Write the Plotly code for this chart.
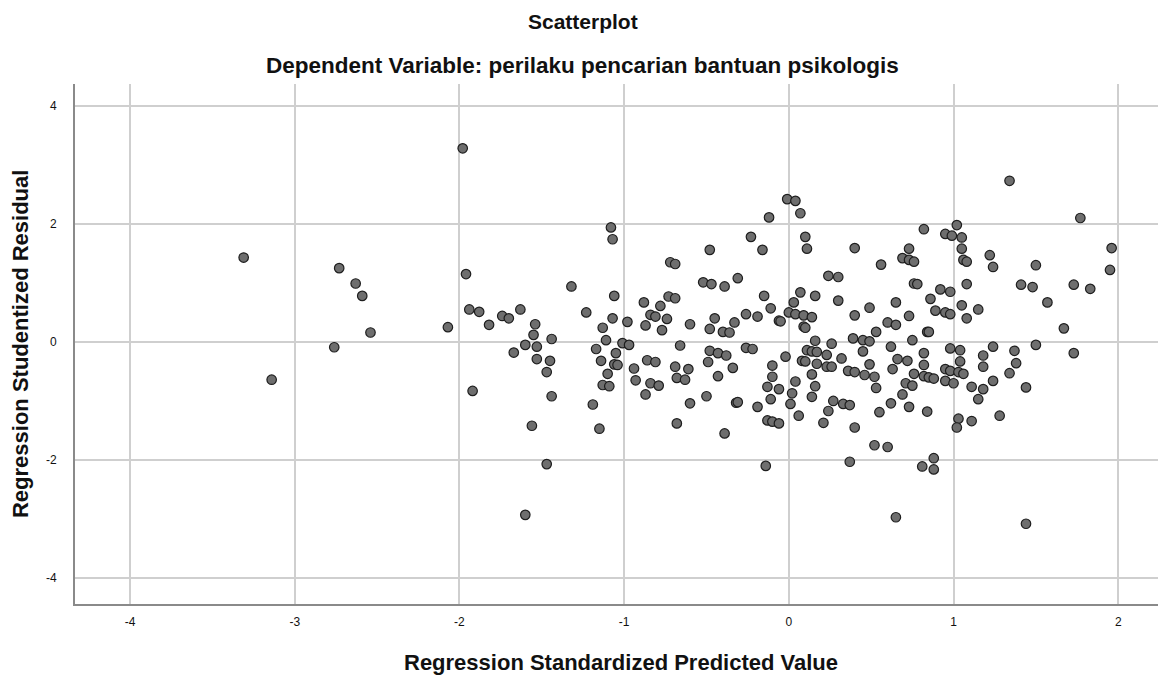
import plotly.graph_objects as go

# Regression Standardized Predicted Value (x) and Regression Studentized Residual (y)
pred = [
    -3.31, -1.98, -2.73, -2.63, -2.59, -2.54, -2.76, -1.96, -2.07, -1.94,
    -1.88, -1.82, -1.74, -1.70, -1.63, -1.54, -1.55, -1.60, -1.53, -1.67,
    -1.53, -3.14, -1.92, -1.56, -1.60,
    -1.32, -1.06, -1.23, -1.07, -1.13, -0.98, -0.88, -0.73, -0.69, -0.78,
    -0.84, -0.81, -0.74, -0.87, -0.77, -1.44, -1.45, -1.47, -1.44, -1.11,
    -1.17, -1.01, -0.97, -1.05, -1.14, -1.06, -1.04, -1.10, -1.13, -1.09,
    -1.19, -1.15, -0.94, -0.93, -0.86, -0.81, -0.66, -0.69, -0.68, -0.63,
    -0.84, -0.79, -0.87, -0.68,
    -0.52, -0.47, -0.39, -0.31, -0.15, -0.11, -0.26, -0.19, -0.45, -0.48,
    -0.60, -0.33, -0.40, -0.36, -0.06, -0.05, 0.07, 0.16, 0.03, 0.00,
    0.04, 0.09, 0.14, 0.09, 0.10, 0.24, -0.48, -0.43, -0.38, -0.49,
    -0.61, -0.34, -0.43, -0.26, -0.22, -0.02, -0.10, -0.10, -0.13, -0.06,
    -0.11, 0.04, 0.02, 0.01, 0.06, -0.19, -0.32, -0.31, -0.50, -0.60,
    -0.13, -0.10, -0.06, -0.39, 0.16, 0.11, 0.14, 0.17, 0.26, 0.23,
    0.08, 0.10, 0.17, 0.23, 0.26, 0.14, 0.16, 0.14, 0.27, 0.24,
    0.21,
    0.30, 0.30, 0.76, 0.78, 0.92, 0.98, 1.08, 0.49, 0.40, 0.65,
    0.86, 0.89, 0.95, 0.98, 1.05, 1.08, 1.15, 0.73, 0.60, 0.65,
    0.53, 0.84, 0.85, 0.39, 0.45, 0.49, 0.75, 0.62, 0.45, 0.32,
    0.49, 0.36, 0.40, 0.46, 0.52, 0.63, 0.66, 0.72, 0.82, 0.82,
    0.76, 0.82, 0.85, 0.88, 0.71, 0.75, 0.53, 0.69, 0.62, 0.73,
    0.55, 0.84, 0.33, 0.37, 0.40, 0.98, 1.04, 1.04, 0.95, 0.98,
    1.03, 1.06, 0.95, 1.00, 1.11, 1.03, 1.02, 1.11,
    1.41, 1.48, 1.73, 1.83, 1.57, 1.67, 1.24, 1.50, 1.18, 1.37,
    1.18, 1.38, 1.73, 1.34, 1.24, 1.18, 1.15, 1.44, 1.28,
    -1.08, -1.07, -0.01, 0.04, 0.07, -0.12, -0.23, 0.10, 0.11, -0.16,
    -0.48, -0.72, -0.69, 1.34, 1.77, 1.96, 0.82, 1.02, 0.95, 0.99,
    1.05, 1.05, 0.40, 0.73, 0.69, 0.73, 0.76, 1.06, 1.08, 0.56,
    1.22, 1.24, 1.50, 1.95,
    -1.47, -0.14, 0.52, 0.60, 0.37, 0.81, 0.88, 0.88, 0.65, 1.44,
]

resid = [
    1.43, 3.28, 1.25, 0.99, 0.78, 0.16, -0.09, 1.15, 0.25, 0.55,
    0.51, 0.29, 0.44, 0.40, 0.55, 0.30, 0.12, -0.05, -0.08, -0.18,
    -0.29, -0.64, -0.83, -1.42, -2.93,
    0.94, 0.78, 0.50, 0.40, 0.24, 0.34, 0.67, 0.77, 0.74, 0.61,
    0.46, 0.43, 0.39, 0.28, 0.20, 0.05, -0.32, -0.51, -0.92, 0.03,
    -0.12, -0.02, -0.05, -0.19, -0.32, -0.38, -0.39, -0.54, -0.73, -0.75,
    -1.06, -1.47, -0.45, -0.65, -0.31, -0.34, -0.06, -0.42, -0.61, -0.64,
    -0.70, -0.74, -0.89, -1.38,
    1.01, 0.98, 0.94, 1.08, 0.78, 0.57, 0.47, 0.43, 0.40, 0.22,
    0.30, 0.33, 0.17, 0.16, 0.36, 0.35, 0.84, 0.78, 0.67, 0.50,
    0.47, 0.45, 0.42, 0.26, 0.24, 1.12, -0.15, -0.19, -0.23, -0.34,
    -0.46, -0.44, -0.58, -0.10, -0.12, -0.25, -0.40, -0.59, -0.76, -0.80,
    -0.97, -0.67, -0.87, -1.05, -1.25, -1.10, -1.03, -1.02, -0.92, -1.04,
    -1.33, -1.35, -1.38, -1.55, 0.02, -0.14, -0.16, -0.17, -0.03, -0.22,
    -0.32, -0.33, -0.37, -0.42, -0.42, -0.55, -0.75, -0.93, -1.00, -1.17,
    -1.37,
    1.10, 0.70, 0.99, 0.98, 0.89, 0.85, 0.98, 0.58, 0.45, 0.67,
    0.73, 0.53, 0.50, 0.47, 0.62, 0.40, 0.55, 0.44, 0.33, 0.29,
    0.17, 0.17, 0.17, 0.06, 0.03, 0.01, 0.03, -0.08, -0.16, -0.28,
    -0.38, -0.49, -0.51, -0.56, -0.59, -0.46, -0.29, -0.32, -0.19, -0.39,
    -0.54, -0.58, -0.60, -0.62, -0.70, -0.74, -0.78, -0.89, -1.04, -1.10,
    -1.19, -1.18, -1.05, -1.07, -1.45, -0.11, -0.14, -0.33, -0.46, -0.49,
    -0.51, -0.54, -0.66, -0.70, -0.76, -1.30, -1.45, -1.34,
    0.97, 0.93, 0.97, 0.90, 0.67, 0.23, -0.08, -0.05, -0.23, -0.15,
    -0.42, -0.36, -0.19, -0.53, -0.66, -0.80, -0.97, -0.77, -1.25,
    1.94, 1.74, 2.42, 2.39, 2.18, 2.11, 1.78, 1.78, 1.58, 1.56,
    1.56, 1.35, 1.32, 2.73, 2.10, 1.59, 1.91, 1.98, 1.83, 1.80,
    1.77, 1.58, 1.59, 1.58, 1.42, 1.39, 1.36, 1.39, 1.36, 1.31,
    1.47, 1.27, 1.30, 1.22,
    -2.07, -2.10, -1.75, -1.78, -2.03, -2.11, -1.97, -2.16, -2.97, -3.08,
]

x_ticks = [-4, -3, -2, -1, 0, 1, 2]
y_ticks = [-4, -2, 0, 2, 4]

title_text = "Scatterplot"
subtitle_text = "Dependent Variable: perilaku pencarian bantuan psikologis"
x_title = "Regression Standardized Predicted Value"
y_title = "Regression Studentized Residual"

FONT = "Liberation Sans, Arial, sans-serif"

fig = go.Figure()
fig.add_trace(go.Scatter(
    x=pred, y=resid, mode="markers",
    marker=dict(size=9.5, color="#6e6e6e", symbol="circle",
                line=dict(color="#1e1e1e", width=1.2)),
    hoverinfo="x+y", showlegend=False,
))

# page body has an 8px margin, so the figure is 8px smaller and margins shifted
fig.update_layout(
    width=1158, height=669,
    margin=dict(l=67, r=0, t=76, b=73),
    paper_bgcolor="white", plot_bgcolor="white",
    font=dict(family=FONT, color="#111111"),
    xaxis=dict(
        range=[-4.334, 2.29], tickvals=x_ticks, ticktext=[str(v) for v in x_ticks],
        showgrid=True, gridcolor="#cfcfcf", gridwidth=1.5, zeroline=False,
        showline=True, linecolor="#8a8a8a", linewidth=2, mirror=False,
        ticks="", tickfont=dict(size=12, family=FONT, color="#111111"),
        ticklabelstandoff=6,
    ),
    yaxis=dict(
        range=[-4.44, 4.37], tickvals=y_ticks, ticktext=[str(v) for v in y_ticks],
        showgrid=True, gridcolor="#cfcfcf", gridwidth=1.5, zeroline=False,
        showline=True, linecolor="#8a8a8a", linewidth=2, mirror=False,
        ticks="", tickfont=dict(size=12, family=FONT, color="#111111"),
        ticklabelstandoff=14,
    ),
    annotations=[
        dict(text="<b>" + title_text + "</b>", xref="paper", yref="paper",
             x=0.4656, y=1.121, xanchor="center", yanchor="middle", showarrow=False,
             font=dict(size=21, family=FONT, color="#111111")),
        dict(text="<b>" + subtitle_text + "</b>", xref="paper", yref="paper",
             x=0.4656, y=1.0365, xanchor="center", yanchor="middle", showarrow=False,
             font=dict(size=22.5, family=FONT, color="#111111")),
        dict(text="<b>" + x_title + "</b>", xref="paper", yref="paper",
             x=0.5, y=-0.113, xanchor="center", yanchor="middle", showarrow=False,
             font=dict(size=22, family=FONT, color="#111111")),
        dict(text="<b>" + y_title + "</b>", xref="paper", yref="paper",
             x=-0.0504, y=0.5, xanchor="center", yanchor="middle", showarrow=False,
             textangle=-90, font=dict(size=22, family=FONT, color="#111111")),
    ],
)

fig.write_html("out.html")
